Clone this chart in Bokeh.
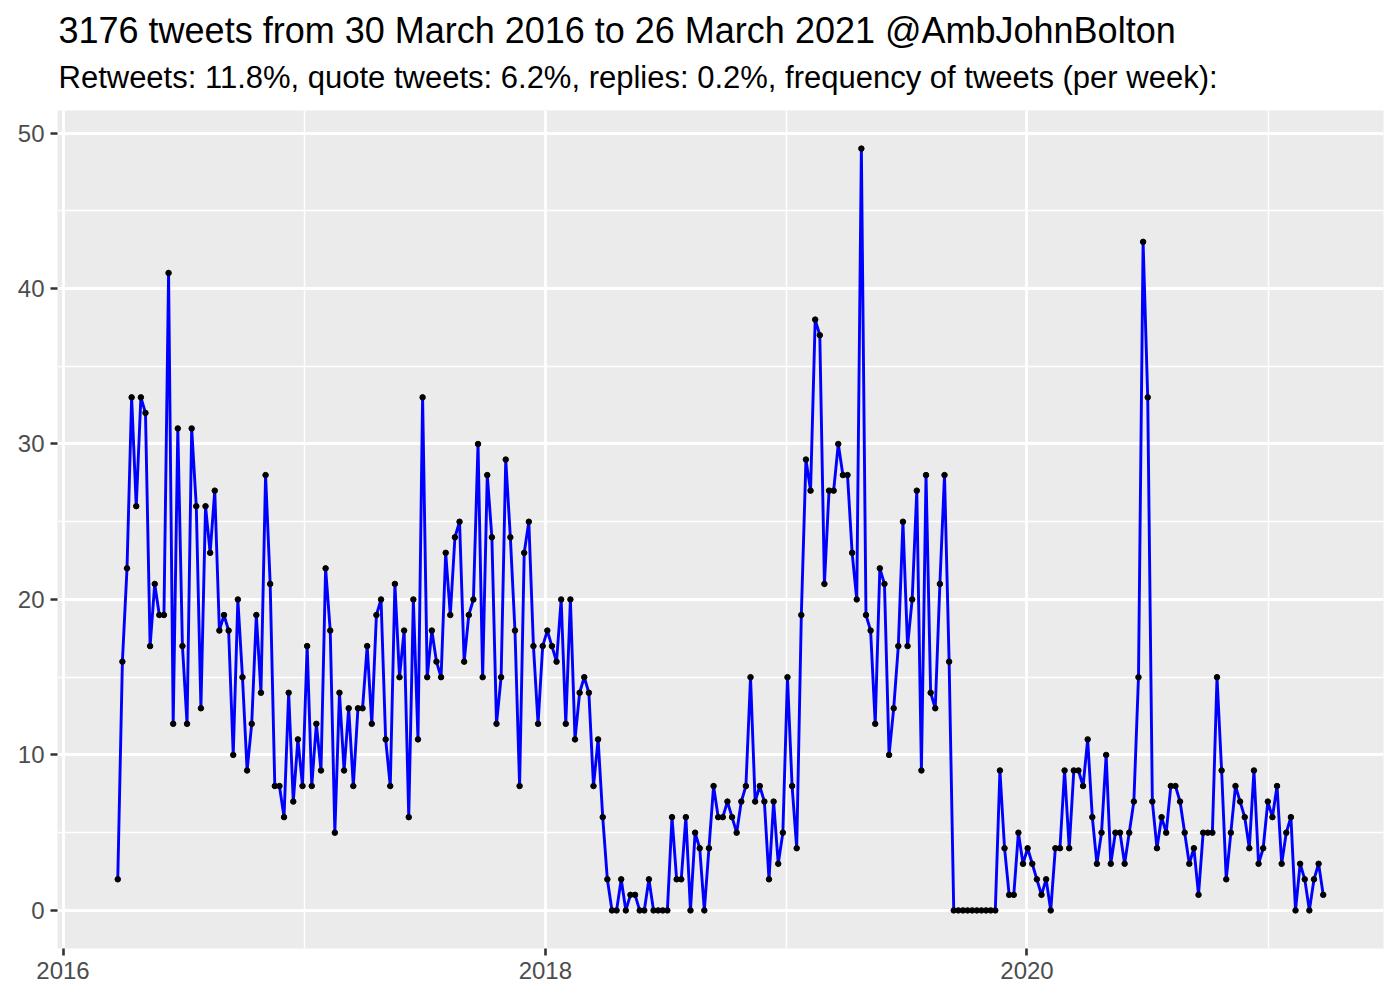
import pandas as pd
from bokeh.plotting import figure
from bokeh.models import Range1d, FixedTicker, DatetimeTickFormatter, Title
from bokeh.embed import file_html
from bokeh.resources import INLINE

# ---- data (weekly tweet counts) ----
week_start = pd.date_range("2016-03-24", periods=262, freq="7D")
tweets_per_week = [
    2, 16, 22, 33, 26, 33, 32, 17, 21, 19, 19, 41, 12, 31, 17, 12, 31, 26, 13, 26, 23, 27, 18, 19, 18, 10,
    20, 15, 9, 12, 19, 14, 28, 21, 8, 8, 6, 14, 7, 11, 8, 17, 8, 12, 9, 22, 18, 5, 14, 9, 13, 8, 13,
    13, 17, 12, 19, 20, 11, 8, 21, 15, 18, 6, 20, 11, 33, 15, 18, 16, 15, 23, 19, 24, 25, 16, 19, 20, 30, 15, 28,
    24, 12, 15, 29, 24, 18, 8, 23, 25, 17, 12, 17, 18, 17, 16, 20, 12, 20, 11, 14, 15, 14, 8, 11, 6, 2, 0,
    0, 2, 0, 1, 1, 0, 0, 2, 0, 0, 0, 0, 6, 2, 2, 6, 0, 5, 4, 0, 4, 8, 6, 6, 7, 6, 5,
    7, 8, 15, 7, 8, 7, 2, 7, 3, 5, 15, 8, 4, 19, 29, 27, 38, 37, 21, 27, 27, 30, 28, 28, 23, 20,
    49, 19, 18, 12, 22, 21, 10, 13, 17, 25, 17, 20, 27, 9, 28, 14, 13, 21, 28, 16,
    0, 0, 0, 0, 0, 0, 0, 0, 0, 0,
    9, 4, 1, 1, 5, 3, 4, 3, 2, 1, 2, 0, 4, 4, 9, 4, 9, 9, 8, 11, 6, 3, 5,
    10, 3, 5, 5, 3, 5, 7, 15, 43, 33, 7, 4, 6, 5, 8, 8, 7, 5, 3, 4, 1, 5, 5, 5, 15, 9, 2,
    5, 8, 7, 6, 4, 9, 3, 4, 7, 6, 8, 3, 5, 6, 0, 3, 2, 0, 2, 3, 1,
]
major_years = [2016, 2018, 2020]
minor_years = [2017, 2019, 2021]
y_major = [0, 10, 20, 30, 40, 50]
y_minor = [5, 15, 25, 35, 45]

title_text = "3176 tweets from 30 March 2016 to 26 March 2021 @AmbJohnBolton"
subtitle_text = "Retweets: 11.8%, quote tweets: 6.2%, replies: 0.2%, frequency of tweets (per week):"

FONT = "Liberation Sans"

def ms(year):
    return pd.Timestamp(f"{year}-01-01").value / 1e6

pad = (week_start[-1] - week_start[0]) * 0.05
ymax = max(tweets_per_week)
x_range = Range1d(week_start[0] - pad, week_start[-1] + pad)
y_range = Range1d(-0.05 * ymax, ymax * 1.05)

p = figure(width=1392, height=992, x_axis_type="datetime",
           x_range=x_range, y_range=y_range,
           output_backend="svg", toolbar_location=None,
           min_border_left=57, min_border_right=9, min_border_bottom=44, min_border_top=110)

p.background_fill_color = "#EBEBEB"
p.border_fill_color = "white"
p.outline_line_color = None

# titles
p.add_layout(Title(text=subtitle_text, text_font=FONT, text_font_size="31px",
                   text_font_style="normal", text_color="black", align="left",
                   offset=1, standoff=31), "above")
p.add_layout(Title(text=title_text, text_font=FONT, text_font_size="36px",
                   text_font_style="normal", text_color="black", align="left",
                   offset=1, standoff=-17), "above")

# grid
p.xaxis.ticker = FixedTicker(ticks=[ms(y) for y in major_years],
                             minor_ticks=[ms(y) for y in minor_years])
p.yaxis.ticker = FixedTicker(ticks=y_major, minor_ticks=y_minor)
p.xaxis.formatter = DatetimeTickFormatter(years="%Y", months="%Y", days="%Y",
                                          hours="%Y", minutes="%Y", seconds="%Y",
                                          milliseconds="%Y", microseconds="%Y")
for g in (p.xgrid, p.ygrid):
    g.grid_line_color = "white"
    g.grid_line_width = 2.8
    g.minor_grid_line_color = "white"
    g.minor_grid_line_width = 1.4

for ax in (p.xaxis, p.yaxis):
    ax.axis_line_color = None
    ax.major_tick_line_color = "#333333"
    ax.major_tick_line_width = 2.6
    ax.major_tick_out = 7
    ax.major_tick_in = 0
    ax.minor_tick_line_color = None
    ax.major_label_text_font = FONT
    ax.major_label_text_font_size = "24px"
    ax.major_label_text_color = "#4D4D4D"
    ax.major_label_standoff = 6

p.line(week_start, tweets_per_week, line_color="blue", line_width=2.9)
p.scatter(week_start, tweets_per_week, size=5.5, fill_color="black", line_color="black")

open("out.html", "w").write(file_html(p, INLINE))
